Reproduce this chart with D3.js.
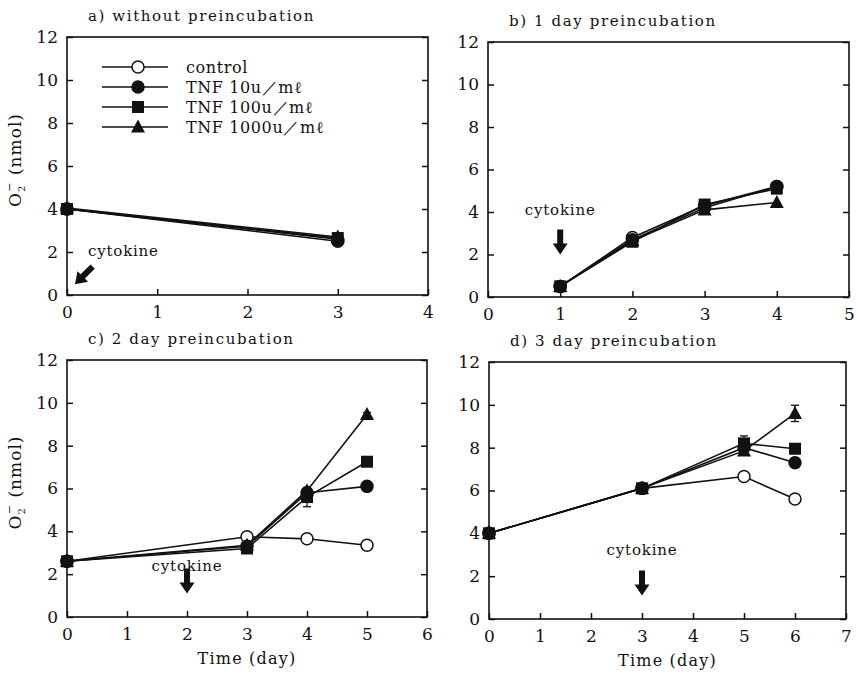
<!DOCTYPE html>
<html>
<head>
<meta charset="utf-8">
<script src="https://cdn.jsdelivr.net/npm/d3@7"></script>
<style>
  body { margin: 0; background: #fff; }
  text { font-family: "DejaVu Serif", "Liberation Serif", serif; fill: #111; }
</style>
</head>
<body>
<svg id="thesvg" width="856" height="675"></svg>
<script>
// panel data, one entry per panel a-d
var titles = ["a) without preincubation", "b) 1 day preincubation", "c) 2 day preincubation", "d) 3 day preincubation"];
var xMax = [4, 5, 6, 7];
var days = [[0, 3], [1, 2, 3, 4], [0, 3, 4, 5], [0, 3, 5, 6]];
var cytokineDay = [0, 1, 2, 3];

var control = [[4.0, 2.6], [0.5, 2.8, 4.3, 5.2], [2.6, 3.75, 3.65, 3.35], [4.0, 6.1, 6.65, 5.6]];
var tnf10   = [[4.0, 2.5], [0.5, 2.7, 4.2, 5.2], [2.6, 3.3, 5.8, 6.1], [4.0, 6.1, 8.0, 7.3]];
var tnf100  = [[4.0, 2.65], [0.5, 2.6, 4.35, 5.1], [2.6, 3.2, 5.6, 7.25], [4.0, 6.1, 8.2, 7.95]];
var tnf1000 = [[4.05, 2.7], [0.5, 2.65, 4.1, 4.45], [2.6, 3.35, 5.9, 9.45], [4.0, 6.1, 7.85, 9.6]];

// error bars (half width, nmol)
var err100  = [[0, 0], [0, 0, 0, 0], [0, 0, 0.45, 0], [0, 0, 0.35, 0]];
var err1000 = [[0, 0], [0, 0, 0, 0], [0, 0, 0, 0.1], [0, 0, 0, 0.38]];

var names = ["control", "TNF 10u\uFF0Fm\u2113", "TNF 100u\uFF0Fm\u2113", "TNF 1000u\uFF0Fm\u2113"];
var series = [control, tnf10, tnf100, tnf1000];
var errs = [null, null, err100, err1000];
var symbols = ["circle", "circle", "square", "triangle"];
var fills = ["#fff", "#111", "#111", "#111"];

var yTicks = [0, 2, 4, 6, 8, 10, 12];

// frame of each panel
var boxes = [
    {l: 67, r: 428, t: 37, b: 295},
    {l: 488, r: 849, t: 42, b: 297},
    {l: 67, r: 427, t: 360, b: 617},
    {l: 489, r: 846, t: 362, b: 619}
];

var svg = d3.select("#thesvg");
svg.append("rect").attr("width", 856).attr("height", 675).attr("fill", "#fff");

function marker(g, kind, x, y, fill) {
    if (kind == "circle") {
        g.append("circle").attr("cx", x).attr("cy", y).attr("r", 6)
            .attr("fill", fill).attr("stroke", "#111").attr("stroke-width", 1.5);
    } else if (kind == "square") {
        g.append("rect").attr("x", x - 6).attr("y", y - 6).attr("width", 12).attr("height", 12)
            .attr("fill", fill);
    } else {
        g.append("path").attr("d", `M${x},${y - 7.5}L${x + 7},${y + 5.5}L${x - 7},${y + 5.5}Z`)
            .attr("fill", fill);
    }
}

function arrow(g, x, y, angle) {
    // tip at (x, y), pointing down before rotation
    g.append("path")
        .attr("d", "M0,0L-7.5,-11L-3,-11L-3,-25L3,-25L3,-11L7.5,-11Z")
        .attr("fill", "#111")
        .attr("transform", `translate(${x},${y}) rotate(${angle})`);
}

for (let p = 0; p < 4; p++) {
    var bx = boxes[p];
    var g = svg.append("g");

    var xScale = d3.scaleLinear().domain([0, xMax[p]]).range([bx.l, bx.r]);
    var yScale = d3.scaleLinear().domain([0, 12]).range([bx.b, bx.t]);

    // frame
    g.append("rect").attr("x", bx.l).attr("y", bx.t)
        .attr("width", bx.r - bx.l).attr("height", bx.b - bx.t)
        .attr("fill", "none").attr("stroke", "#111").attr("stroke-width", 1.6);

    // axes with inward ticks
    var xAxis = d3.axisBottom(xScale).ticks(xMax[p]).tickSize(-6).tickPadding(11).tickFormat(d3.format("d"));
    var yAxis = d3.axisLeft(yScale).tickValues(yTicks).tickSize(-6).tickPadding(9);
    var yRight = d3.axisRight(yScale).tickValues(yTicks).tickSize(-6).tickFormat("");

    [g.append("g").attr("transform", `translate(0,${bx.b})`).call(xAxis),
     g.append("g").attr("transform", `translate(${bx.l},0)`).call(yAxis),
     g.append("g").attr("transform", `translate(${bx.r},0)`).call(yRight)].forEach(function(a) {
        a.select(".domain").remove();
        a.selectAll("line").attr("stroke", "#111").attr("stroke-width", 1.5);
        a.selectAll("text").style("font-size", "17px").style("font-family", "DejaVu Serif").attr("fill", "#111");
    });

    // title
    g.append("text").attr("x", bx.l + 21).attr("y", bx.t - 16)
        .style("font-size", "15px").style("letter-spacing", "1.6px")
        .text(titles[p]);

    // y label on left panels
    if (p % 2 == 0) {
        var yl = g.append("text")
            .attr("transform", `translate(${bx.l - 46},${(bx.t + bx.b) / 2 - 6}) rotate(-90)`)
            .attr("text-anchor", "middle")
            .style("font-size", "17px").style("letter-spacing", "1px");
        yl.append("tspan").text("O");
        yl.append("tspan").attr("dy", 4).style("font-size", "10px").text("2");
        yl.append("tspan").attr("dx", -7).attr("dy", -12).style("font-size", "11px").text("\u2212");
        yl.append("tspan").attr("dy", 8).text(" (nmol)");
    }

    // x label on bottom panels
    if (p >= 2) {
        g.append("text").attr("x", (bx.l + bx.r) / 2).attr("y", bx.b + 47)
            .attr("text-anchor", "middle")
            .style("font-size", "16px").style("letter-spacing", "1.2px")
            .text("Time (day)");
    }

    // series: lines, error bars, markers
    for (let s = 0; s < series.length; s++) {
        var pts = days[p].map(function(d, k) { return [d, series[s][p][k]]; });
        var line = d3.line().x(function(d) { return xScale(d[0]); }).y(function(d) { return yScale(d[1]); });
        g.append("path").attr("d", line(pts)).attr("fill", "none")
            .attr("stroke", "#111").attr("stroke-width", 1.6);
    }
    for (let s = 0; s < series.length; s++) {
        for (let k = 0; k < days[p].length; k++) {
            var cx = xScale(days[p][k]);
            var v = series[s][p][k];
            if (errs[s] && errs[s][p][k] > 0) {
                var e = errs[s][p][k];
                g.append("line").attr("x1", cx).attr("x2", cx)
                    .attr("y1", yScale(v - e)).attr("y2", yScale(v + e))
                    .attr("stroke", "#111").attr("stroke-width", 1.3);
                [v - e, v + e].forEach(function(w) {
                    g.append("line").attr("x1", cx - 4).attr("x2", cx + 4)
                        .attr("y1", yScale(w)).attr("y2", yScale(w))
                        .attr("stroke", "#111").attr("stroke-width", 1.3);
                });
            }
            marker(g, symbols[s], cx, yScale(v), fills[s]);
        }
    }

    // cytokine annotation
    var cd = cytokineDay[p];
    if (p == 0) {
        arrow(g, xScale(cd) + 8, yScale(0.5), 45);
        g.append("text").attr("x", xScale(cd) + 21).attr("y", yScale(1.8))
            .style("font-size", "15px").style("letter-spacing", "0.8px").text("cytokine");
    } else {
        arrow(g, xScale(cd), yScale(p == 1 ? 2.0 : 1.1), 0);
        g.append("text").attr("x", xScale(cd)).attr("y", yScale(p == 1 ? 3.85 : p == 2 ? 2.15 : 3.0))
            .attr("text-anchor", "middle")
            .style("font-size", "15px").style("letter-spacing", "0.8px").text("cytokine");
    }
}

// legend inside panel a
var leg = svg.append("g");
var legY = [67, 87, 107, 127];
for (let s = 0; s < names.length; s++) {
    leg.append("line").attr("x1", 102).attr("x2", 168).attr("y1", legY[s]).attr("y2", legY[s])
        .attr("stroke", "#111").attr("stroke-width", 1.6);
    marker(leg, symbols[s], 138, legY[s], fills[s]);
    leg.append("text").attr("x", 186).attr("y", legY[s] + 6)
        .style("font-size", "16px").style("letter-spacing", "0.6px")
        .text(names[s]);
}
</script>
</body>
</html>
